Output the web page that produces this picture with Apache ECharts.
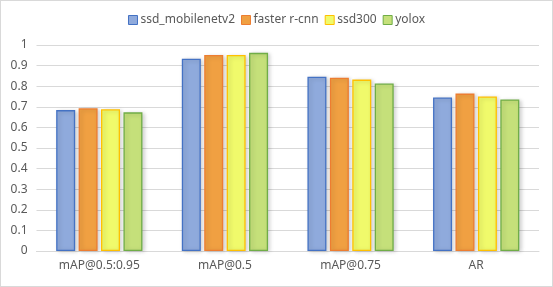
<!DOCTYPE html>
<html><head><meta charset="utf-8">
<script src="https://cdn.jsdelivr.net/npm/echarts@6/dist/echarts.min.js"></script>
<style>html,body{margin:0;padding:0;background:#fff}#c{width:553px;height:287px;box-sizing:border-box;border:1px solid #d9d9d9}</style>
</head><body><div id="c"></div>
<script>
const categories = ['mAP@0.5:0.95', 'mAP@0.5', 'mAP@0.75', 'AR'];
const seriesNames = ['ssd_mobilenetv2', 'faster r-cnn', 'ssd300', 'yolox'];
const ssdMobilenet = [0.684, 0.933, 0.846, 0.745];
const fasterRcnn = [0.693, 0.952, 0.841, 0.764];
const ssd300 = [0.688, 0.952, 0.832, 0.750];
const yolox = [0.673, 0.962, 0.813, 0.736];
const yTicks = [0, 0.1, 0.2, 0.3, 0.4, 0.5, 0.6, 0.7, 0.8, 0.9, 1];

const fills = ['#8FAADC', '#F0A042', '#F0FA6B', '#C5E07A'];
const borders = ['#4472C4', '#ED7D31', '#FFC000', '#70AD47'];
const values = [ssdMobilenet, fasterRcnn, ssd300, yolox];
const font = '"Noto Sans", "DejaVu Sans", sans-serif';

const chart = echarts.init(document.getElementById('c'), null, {renderer: 'canvas'});
chart.setOption({
  animation: false,
  legend: {
    top: 8, left: 'center', itemWidth: 9, itemHeight: 9, itemGap: 6,
    textStyle: {fontFamily: font, fontSize: 12, color: '#595959', padding: [0, 0, 0, -2]},
    data: seriesNames.map((n, i) => ({name: n, icon: 'rect',
      itemStyle: {color: fills[i], borderColor: borders[i], borderWidth: 1}}))
  },
  grid: {left: 35.5, right: 13, top: 44, bottom: 35, containLabel: false},
  xAxis: {
    type: 'category', data: categories,
    axisLine: {lineStyle: {color: '#d9d9d9'}},
    axisTick: {show: false},
    axisLabel: {fontFamily: font, fontSize: 12, color: '#595959', margin: 9}
  },
  yAxis: {
    type: 'value', min: yTicks[0], max: yTicks[yTicks.length - 1], interval: 0.1,
    axisLine: {show: false}, axisTick: {show: false},
    splitLine: {lineStyle: {color: '#d9d9d9'}},
    axisLabel: {fontFamily: font, fontSize: 12, color: '#595959', margin: 9,
      formatter: v => String(Math.round(v * 10) / 10)}
  },
  series: seriesNames.map((n, i) => ({
    name: n, type: 'bar', data: values[i], barWidth: 19, barGap: '18%',
    itemStyle: {color: fills[i], borderColor: borders[i], borderWidth: 1.3,
      shadowColor: 'rgba(0,0,0,0.18)', shadowBlur: 4, shadowOffsetX: 2, shadowOffsetY: 1}
  }))
});
</script></body></html>
